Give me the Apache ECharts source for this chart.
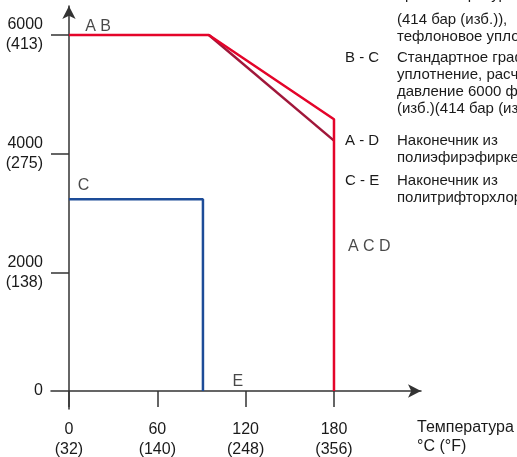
<!DOCTYPE html>
<html>
<head>
<meta charset="utf-8">
<script src="https://cdn.jsdelivr.net/npm/echarts@6/dist/echarts.min.js"></script>
<style>
  html, body { margin: 0; padding: 0; background: #fff; }
  #main { width: 517px; height: 457px; }
</style>
</head>
<body>
<div id="main"></div>
<script>
// temperature (°C) / pressure (psi) points
const redLine = [[0, 6000], [95, 6000], [180, 4580], [180, 0]]
const darkRedLine = [[95, 6000], [180, 4220]]
const blueLine = [[0, 3230], [91, 3230], [91, 0]]

const xTicks = [0, 60, 120, 180]
const xTickLabels = ['0\n(32)', '60\n(140)', '120\n(248)', '180\n(356)']
const yTicks = [0, 2000, 4000, 6000]
const yTickLabels = ['0', '2000\n(138)', '4000\n(275)', '6000\n(413)']

const pointNames = ['A B', 'C', 'E', 'A C D']
const pointPos = [[11, 6150], [6, 3470], [111, 160], [189.5, 2435]]

const noteKeys = ['', '', '', 'B - C', '', '', '', 'A - D', '', 'C - E', '']
const noteLines = [
  'при температуре до 95 °C',
  '(414 бар (изб.)),',
  'тефлоновое уплотнение',
  'Стандартное графитовое',
  'уплотнение, расчетное',
  'давление 6000 фунт/кв. дюйм',
  '(изб.)(414 бар (изб.))',
  'Наконечник из',
  'полиэфирэфиркетона',
  'Наконечник из',
  'политрифторхлорэтилена'
]
const noteY = [-5, 20.5, 37.5, 58, 75, 92, 109, 141, 158, 181, 198]

const FONT = '"Liberation Sans", Arial, sans-serif'
const TXT = '#1a1a1a'

const chart = echarts.init(document.getElementById('main'))

const graphics = []
noteLines.forEach((t, i) => {
  graphics.push({
    type: 'text', left: 397, top: noteY[i] - 8,
    style: { text: t, fontFamily: FONT, fontSize: 15, fill: TXT }
  })
  if (noteKeys[i]) {
    graphics.push({
      type: 'text', left: 345, top: noteY[i] - 8,
      style: { text: noteKeys[i], fontFamily: FONT, fontSize: 15, fill: TXT }
    })
  }
})
graphics.push({
  type: 'text', left: 417, top: 418,
  style: { text: 'Температура\n°C (°F)', fontFamily: FONT, fontSize: 16, lineHeight: 19, fill: TXT }
})

chart.setOption({
  animation: false,
  grid: { left: 51, top: 6, width: 370, height: 403, outerBoundsMode: 'none', containLabel: false },
  xAxis: {
    type: 'value',
    min: -12.2,
    max: 239.1,
    splitLine: { show: false },
    axisLine: {
      onZero: true,
      lineStyle: { color: '#333', width: 1.5 },
      symbol: ['none', 'arrow'],
      symbolSize: [10, 13]
    },
    axisTick: { show: true, customValues: xTicks, length: 16, lineStyle: { color: '#333', width: 1.5 } },
    axisLabel: {
      customValues: xTicks,
      formatter: v => xTickLabels[xTicks.indexOf(v)],
      margin: 11,
      fontFamily: FONT, fontSize: 16, lineHeight: 20, color: TXT
    }
  },
  yAxis: {
    type: 'value',
    min: -303,
    max: 6489,
    splitLine: { show: false },
    axisLine: {
      show: true,
      onZero: true,
      lineStyle: { color: '#333', width: 1.5 },
      symbol: ['none', 'arrow'],
      symbolSize: [10, 13]
    },
    axisTick: { show: true, customValues: yTicks.slice(1), length: 18, lineStyle: { color: '#333', width: 1.5 } },
    axisLabel: {
      customValues: yTicks,
      formatter: v => yTickLabels[yTicks.indexOf(v)],
      margin: 8,
      fontFamily: FONT, fontSize: 16, lineHeight: 20, color: TXT
    }
  },
  graphic: graphics,
  series: [
    {
      type: 'line', data: darkRedLine, showSymbol: false,
      lineStyle: { color: '#a0173a', width: 2.5 }
    },
    {
      type: 'line', data: redLine, showSymbol: false,
      lineStyle: { color: '#e4042a', width: 2.5 }
    },
    {
      type: 'line', data: blueLine, showSymbol: false,
      lineStyle: { color: '#1d4c98', width: 2.5 }
    },
    {
      type: 'scatter', symbolSize: 0,
      data: pointNames.map((n, i) => ({ name: n, value: pointPos[i] })),
      label: {
        show: true, position: [0, 0], align: 'left', verticalAlign: 'middle',
        formatter: p => p.name,
        fontFamily: FONT, fontSize: 16, color: TXT
      }
    }
  ]
})
</script>
</body>
</html>
